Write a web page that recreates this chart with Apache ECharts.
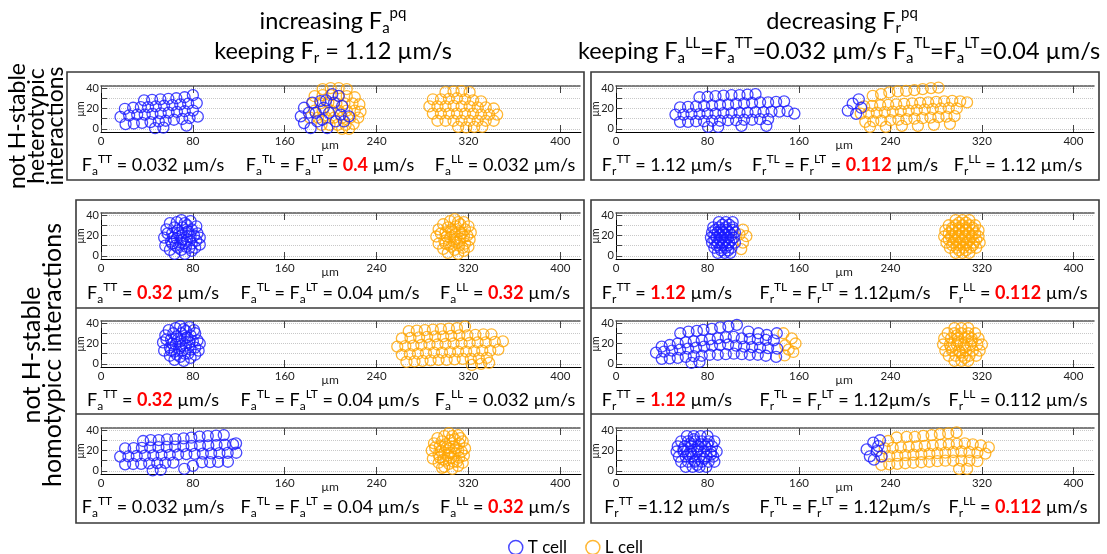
<!DOCTYPE html>
<html><head><meta charset="utf-8">
<script src="https://cdn.jsdelivr.net/npm/echarts@6/dist/echarts.min.js"></script>
<style>html,body{margin:0;padding:0;background:#fff}#c{width:1107px;height:554px}</style>
</head><body><div id="c"></div>
<script>
// ---------- tick values ----------
const xTicks = [0, 80, 160, 240, 320, 400];
const yTicks = [0, 10, 20, 30, 40];
const yLabels = [0, 20, 40];

// ---------- cell positions (µm) ----------
// Panel 1: increasing Fa, heterotypic row
const p1_T = [[37.5,28],[44.5,28.5],[51.7,29],[58.7,29.5],[65.6,30],[72.8,31],[80,33],
 [20.8,19.7],[28,20.7],[34.7,21.3],[41,21.3],[47.7,22],[54.9,22.7],[62.1,23.3],[69,24],[75.9,24.7],[83.4,25.3],
 [17,11.7],[24.5,13.3],[31.5,14],[38.1,14],[44.8,14.7],[52,15.3],[58.9,16],[66.1,16.7],[73,17.3],[80,18],
 [21.4,4.7],[28.6,5.3],[35.8,6],[43.1,6.7],[50.3,7.3],[56.3,8],[63.5,9],[70.8,9.7],[77.1,10.7],[84.3,12],
 [47.1,0.7],[54.3,1.3],[74.5,3.3]];
const p1_Tmix = [[176.8,20.7],[174,12.3],[176.8,5.7],[182.6,0.7],[184,25.7],[187,15.7],[191,27.3],[192.7,9],[194,20.7],
 [197,0.7],[201.4,34],[207,32.3],[203,25.7],[208.7,14],[210,22.3],[211.6,7.3],[204.5,7.3],[198.6,15.7],[188.4,7.3],
 [215.9,12.3],[181,16],[196,28]];
const p1_Lmix = [[193,39],[200,40],[207,40],[214,39],
 [186,32],[193,33],[200,33],[207,32],[214,32],[221,31],
 [184,25],[191,25],[198,26],[205,25],[212,25],[219,25],[225,24],
 [186,18],[193,18],[200,18],[207,18],[214,18],[221,18],[226,17],
 [182,11],[189,11],[196,11],[203,11],[210,11],[217,11],[224,11],
 [192,4],[199,4],[206,4],[213,4],[220,5],[210,0],[216,0]];
const p1_L = [[300,36],[307,36.5],[314,37],[321,36],
 [289,29],[296,29],[303,29.5],[310,30],[317,29],[324,28],[331,27],
 [286,22],[293,22],[300,22],[307,22.5],[314,22],[321,22],[328,21],[335,21],[342,20],
 [289,15],[296,15],[303,15],[310,15],[317,15],[324,15],[331,14],[338,14],[345,14],
 [293,8],[300,8],[307,8],[314,8],[321,8],[328,8],[335,8],[342,8],
 [311,2],[318,1.5],[325,2],[332,2]];

// Panel 2: decreasing Fr, heterotypic row
const p2_T = [[73,31],[80,31.5],[87,32],[94,32.5],[101,33],[108,33],[115,33.5],[122,34],
 [56,21],[63,21.5],[70,22],[77,22.5],[84,23],[91,23.5],[98,24],[105,24.5],[112,25],[119,25.5],[126,26],[133,26],[140,26.5],[147,27],
 [52,14],[59,14],[66,14.5],[73,14.5],[80,15],[87,15],[94,15.5],[101,15.5],[108,16],[115,16],[122,16.5],[129,16.5],[136,17],[143,17],[150,17.5],[156,15],
 [56,7],[63,7],[70,7.5],[77,7.5],[84,8],[91,8],[98,8.5],[105,8.5],[112,9],[119,9],[126,9.5],[133,9.5],
 [80.5,2],[89.3,2],[109.7,3],[131.5,3]];
const p2_Tmix = [[202.7,18],[207,24.7],[212.3,29],[214.4,20.7],[210,14.7]];
const p2_L = [[224.5,32.3],[231.8,34],[239,35.7],[246.4,36.7],[253.7,37.3],[260.9,38],[268.2,39],[275.5,40],[282,40.5],
 [217,22],[224,22.5],[231,23],[238,23.5],[245,24],[252,24.5],[259,25],[266,25.5],[273,26],[280,26.5],[287,27],[294,27.5],[301,27],[307,26],
 [214,15],[221,15.5],[228,16],[235,16.5],[242,17],[249,17.5],[256,18],[263,18.5],[270,19],[277,19.5],[284,20],[291,20.5],[298,20],
 [218,7],[225,7.5],[232,8],[240,8.5],[247,9],[254,9.5],[261,10],[268,10.5],[275,11],[282,11.5],[289,12],[296,12.5],
 [222,2],[236,2],[250,3],[264,3],[278,4],[292,5]];

// Panel 3: Fa row 2 (left)
const p3_T = [[56,10],[55,18],[57,26],[60,32],[62,22],[61,14],[60,6],[64,2],[65,10],[66,17],[67,25],[66,33],[70,35],[71,28],
 [70,20],[69,13],[70,6],[73,2],[74,9],[75,16],[74,23],[75,30],[78,34],[79,26],[78,19],[79,12],[79,5],[82,8],[83,15],[84,22],
 [83,29],[86,18],[86,11],[63,18],[68,22],[72,12],[76,24],[64,28],[73,32],[58,22],[77,8],[81,20],[67,8],[71,16],[62,12]];
const p3_L = [[294,12],[292,19],[294,26],[298,31],[300,23],[299,15],[298,7],[302,3],[303,11],[304,18],[305,26],[304,34],[308,36],
 [309,29],[308,21],[307,14],[308,6],[311,2],[312,10],[313,17],[312,24],[313,31],[316,33],[317,26],[316,19],[317,12],[316,5],
 [320,9],[321,16],[322,23],[320,29],[301,19],[306,23],[310,13],[314,22],[302,28],[311,33],[296,22],[315,8],[319,20],[305,9],
 [309,17],[300,12]];

// Panel 4: Fr row 2 (right)
const p4_T = [[90,33],[96,33],[102,33],[85,28],[90,28],[96,28],[102,28],[84,23],[89,23],[94,23],[99,23],[104,23],
 [83,18],[88,18],[93,18],[98,18],[103,18],[84,13],[89,13],[94,13],[99,13],[104,13],[86,8],[91,8],[96,8],[101,8],
 [89,3],[95,3],[100,3],
 [93,30.5],[99,30.5],[87,25.5],[92,25.5],[97,25.5],[102,25.5],[86,20.5],[91,20.5],[96,20.5],[101,20.5],
 [86,15.5],[91,15.5],[96,15.5],[101,15.5],[88,10.5],[93,10.5],[98,10.5],[92,5.5],[98,5.5]];
const p4_Lmix = [[111,25.7],[114,19.3],[111,13],[109.5,6.7],[108,21]];
const p4_L = [[297,35],[303,35],[309,35],[291,30],[297,30],[303,30],[309,30],[314,30],
 [288,25],[294,25],[300,25],[306,25],[312,25],[317,25],[287,19],[293,19],[299,19],[305,19],[311,19],[317,19],
 [289,13],[295,13],[301,13],[307,13],[313,13],[318,13],[292,8],[298,8],[304,8],[310,8],[315,8],[297,3],[303,3],[309,3],
 [300,32.5],[306,32.5],[294,27.5],[300,27.5],[306,27.5],[312,27.5],[291,22],[297,22],[303,22],[309,22],[314,22],
 [291,16],[297,16],[303,16],[309,16],[315,16],[294,10.5],[300,10.5],[306,10.5],[312,10.5],[300,5.5],[306,5.5]];

// Panel 5: Fa row 3 (left)
const p5_T = [[55,13],[54,21],[56,28],[59,33],[61,24],[60,16],[60,8],[64,4],[64,12],[65,19],[66,27],[65,35],[69,37],[70,30],
 [69,22],[68,15],[69,7],[72,3],[73,10],[74,18],[73,25],[74,32],[77,36],[78,28],[77,21],[78,14],[78,6],[82,9],[82,16],[84,23],
 [82,30],[86,20],[85,13],[62,20],[67,24],[71,13],[75,26],[63,30],[72,34],[57,24],[76,10],[80,22],[66,9],[70,18],[61,13],[81,33]];
const p5_L = [[268,32],[275,32.5],[282,33],[289,33.5],[296,34],[303,34.5],[310,35],[317,36.5],
 [262,25],[269.5,25.5],[277,26],[284,26.5],[291,27],[298,27],[305,27.5],[312,28],[319,28],[326,28.5],[333,29],[340,29],
 [258,17],[265,17.5],[272,18],[279,18.5],[286,19],[293,19],[300,19.5],[307,20],[314,20],[321,20.5],[328,21],[335,21],[343,21.5],[350,22],
 [262,9],[269,9.5],[276,10],[283,10.5],[290,11],[297,11],[304,11.5],[311,12],[318,12],[325,12.5],[332,13],[339,13],[346,14],
 [266,2],[273,2.5],[280,3],[287,3.5],[294,4],[301,4],[308,4.5],[315,5],[322,5],[329,5.5],[336,6],
 [323,-1],[331,0],[338,1]];

// Panel 6: Fr row 3 (right)
const p6_T = [[56.2,30],[63.4,31.7],[70.7,32.3],[76.5,33.3],[83.8,34.3],[91.1,35.7],[98.3,36.7],[105.7,38.3],[115.8,31.7],[124.5,30],[131.9,28.3],[140.6,30],
 [40,17],[47,18.5],[54,20],[61,21],[68,22],[75,23],[82,24],[89,25],[96,26],[103,26.5],[110,25],[117,24.5],[124,24],[131,23.5],[138,23],
 [35,11],[42,12],[49,13],[56,14],[63,15],[70,16],[77,17],[84,18],[91,18.5],[98,19],[105,18],[112,17],[119,16.5],[126,16],[133,15.5],[141,15],
 [40,5],[47,5.5],[54,6],[61,7],[68,7.5],[75,8],[82,9],[89,9],[96,9.5],[103,10],[110,9.5],[117,9],[124,9],[131,8],[140,7],
 [66,1],[73,2]];
const p6_Lmix = [[146.4,30],[153.7,25],[157,20],[148,18.3],[155,11.7],[147.5,8.3],[151,14]];
const p6_L = [[296,35],[302,35],[308,35],[290,30],[296,30],[302,30],[308,30],[314,30],
 [287,25],[293,25],[299,25],[305,25],[311,25],[317,25],[286,19],[292,19],[298,19],[304,19],[310,19],[316,19],[320,19],
 [288,13],[294,13],[300,13],[306,13],[312,13],[318,13],[291,8],[297,8],[303,8],[309,8],[315,8],[296,3],[302,3],[308,3],
 [299,22],[305,16],[301,11],[308,27],[293,16],[311,22],[298,28],[305,6]];

// Panel 7: Fa row 4 (left)
const p7_T = [[36.7,29.3],[43.3,30.2],[50.3,30.2],[57.5,30.9],[64.7,31.2],[71.9,31.9],[78.6,32.5],[85.8,33.5],[93,34.1],[100.2,34.5],[106.9,35.1],[117.6,27],
 [21,22],[28.4,22.3],[35.6,22.6],[42.8,22.9],[50,23.2],[57.2,23.5],[64.5,23.8],[71.7,24.1],[78.9,24.4],[86.2,24.7],[93.4,25],[100.6,25.3],[107.8,25.6],[115,25.9],
 [16.7,14],[23.9,14.3],[31.1,14.6],[38.3,14.9],[45.5,15.2],[52.7,15.5],[59.9,15.8],[67.1,16.1],[74.3,16.4],[81.5,16.7],[88.7,17],[95.9,17.2],[103.1,17.4],[110.3,17.6],[117.8,17.8],
 [21,6.5],[28,6.8],[35,7],[42,7.3],[49,7.6],[56,7.9],[63,8.2],[88,8.5],[95,8.7],[102,8.8],[110.5,9],
 [45,0.5],[52,1],[72.5,2],[80,5]];
const p7_L = [[289,12],[288,20],[290,27],[293,32],[295,24],[294,16],[294,8],[297,3],[298,11],[299,18],[300,26],[299,34],[303,37],
 [304,30],[303,22],[302,15],[303,7],[306,2],[307,9],[308,17],[307,24],[308,31],[311,35],[312,27],[311,20],[312,13],[311,5],
 [315,8],[316,15],[317,22],[315,29],[296,20],[301,23],[305,13],[309,22],[297,29],[306,34],[291,23],[310,9],[314,19],[300,10],
 [304,18],[295,13],[313,32],[299,4]];

// Panel 8: Fr row 4 (right)
const p8_T = [[62,34],[68,34],[74,34],[80,34],[57,29],[63,29],[69,29],[75,29],[81,29],[86,29],
 [54,24],[60,24],[66,24],[72,24],[78,24],[84,24],[53,19],[59,19],[65,19],[71,19],[77,19],[83,19],[88,19],
 [55,14],[61,14],[67,14],[73,14],[79,14],[85,14],[57,9],[63,9],[69,9],[75,9],[81,9],[86,9],[61,4],[67,4],[73,4],[79,4],
 [65,27],[71,21],[77,12],[63,16],[80,26],[69,10],[68,31],[74,26],[59,21],[83,16],[71,6],[66,17]];
const p8_Tmix = [[219.2,21],[225,27.7],[230.8,30],[222,14.3],[228,19.3],[232.3,14.3],[229.3,24.3],[225.6,11]];
const p8_L = [[238,29.3],[245.4,32.7],[254.1,33.3],[261.4,33.3],[268.7,34.3],[276,35],[283.2,36],[290.5,36.7],[297.8,37.7],
 [235,22],[242,22.5],[249,23],[256,23.5],[263,24],[270,24.5],[277,25],[284,25.5],[291,26],[298,26.5],[305,27],[312,26],[319,25],[326,23],
 [232,14],[239,14.5],[246,15],[253,15.5],[260,16],[267,16.5],[274,17],[281,17.5],[288,18],[295,18.5],[302,19],[309,18.5],[316,18],[323,17],
 [232,6],[239,6.5],[246,7],[253,7.5],[260,8],[267,8.5],[274,9],[281,9.5],[288,10],[295,10],[302,10],[309,10],[316,9.5],
 [300,2],[307,2]];

// ---------- texts ----------
const headerLeft = ['{h|increasing F}{hs|a}{hp|pq}', '{h|keeping F}{hs|r}{h| = 1.12 µm/s}'];
const headerRight = ['{h|decreasing F}{hs|r}{hp|pq}',
  '{h|keeping F}{hs|a}{hp|LL}{h|=F}{hs|a}{hp|TT}{h|=0.032 µm/s F}{hs|a}{hp|TL}{h|=F}{hs|a}{hp|LT}{h|=0.04 µm/s}'];
const rowLabel1 = 'not H-stable\nheterotypic\ninteractions';
const rowLabel2 = 'not H-stable\nhomotypicc interactions';
const panelTexts = [
 ['{m|F}{s|a}{p|TT}{m| = 0.032 µm/s}', '{m|F}{s|a}{p|TL}{m| = F}{s|a}{p|LT}{m| = }{r|0.4}{m| µm/s}', '{m|F}{s|a}{p|LL}{m| = 0.032 µm/s}'],
 ['{m|F}{s|r}{p|TT}{m| = 1.12 µm/s}', '{m|F}{s|r}{p|TL}{m| = F}{s|r}{p|LT}{m| = }{r|0.112}{m| µm/s}', '{m|F}{s|r}{p|LL}{m| = 1.12 µm/s}'],
 ['{m|F}{s|a}{p|TT}{m| = }{r|0.32}{m| µm/s}', '{m|F}{s|a}{p|TL}{m| = F}{s|a}{p|LT}{m| = 0.04 µm/s}', '{m|F}{s|a}{p|LL}{m| = }{r|0.32}{m| µm/s}'],
 ['{m|F}{s|r}{p|TT}{m| = }{r|1.12}{m| µm/s}', '{m|F}{s|r}{p|TL}{m| = F}{s|r}{p|LT}{m| = 1.12µm/s}', '{m|F}{s|r}{p|LL}{m| = }{r|0.112}{m| µm/s}'],
 ['{m|F}{s|a}{p|TT}{m| = }{r|0.32}{m| µm/s}', '{m|F}{s|a}{p|TL}{m| = F}{s|a}{p|LT}{m| = 0.04 µm/s}', '{m|F}{s|a}{p|LL}{m| = 0.032 µm/s}'],
 ['{m|F}{s|r}{p|TT}{m| = }{r|1.12}{m| µm/s}', '{m|F}{s|r}{p|TL}{m| = F}{s|r}{p|LT}{m| = 1.12µm/s}', '{m|F}{s|r}{p|LL}{m| = 0.112 µm/s}'],
 ['{m|F}{s|a}{p|TT}{m| = 0.032 µm/s}', '{m|F}{s|a}{p|TL}{m| = F}{s|a}{p|LT}{m| = 0.04 µm/s}', '{m|F}{s|a}{p|LL}{m| = }{r|0.32}{m| µm/s}'],
 ['{m|F}{s|r}{p|TT}{m| =1.12 µm/s}', '{m|F}{s|r}{p|TL}{m| = F}{s|r}{p|LT}{m| = 1.12µm/s}', '{m|F}{s|r}{p|LL}{m| = }{r|0.112}{m| µm/s}']
];

// ---------- layout ----------
const FONT = 'Lato, "Open Sans", sans-serif';
const BLUE = '#1a1aff', ORANGE = '#ffa500';
const colLeft = [101, 616], colWidth = [480, 478];
const rowTop = [86, 213, 321, 428], plotH = 46;
const textY = [165, 293, 400, 507];
const textX = [[153, 330, 505], [667, 845, 1018]];
const panels = [
 {T: p1_T.concat(p1_Tmix), L: p1_Lmix.concat(p1_L)},
 {T: p2_T.concat(p2_Tmix), L: p2_L},
 {T: p3_T, L: p3_L},
 {T: p4_T, L: p4_Lmix.concat(p4_L)},
 {T: p5_T, L: p5_L},
 {T: p6_T, L: p6_Lmix.concat(p6_L)},
 {T: p7_T, L: p7_L},
 {T: p8_T.concat(p8_Tmix), L: p8_L}
];

const rich = {
 m: {fontSize: 18, lineHeight: 24, fontFamily: FONT, fill: '#000'},
 s: {fontSize: 12, lineHeight: 12, verticalAlign: 'bottom', fontFamily: FONT, fill: '#000'},
 p: {fontSize: 12, lineHeight: 16, verticalAlign: 'top', fontFamily: FONT, fill: '#000'},
 r: {fontSize: 18, lineHeight: 24, fontFamily: FONT, fill: '#ff0000', fontWeight: 'bold'}
};
const hrich = {
 h: {fontSize: 23.5, lineHeight: 30, fontFamily: FONT, fill: '#000'},
 hs: {fontSize: 15, lineHeight: 15, verticalAlign: 'bottom', fontFamily: FONT, fill: '#000'},
 hp: {fontSize: 15, lineHeight: 20, verticalAlign: 'top', fontFamily: FONT, fill: '#000'}
};

const grid = [], xAxis = [], yAxis = [], series = [], graphic = [];
panels.forEach((p, i) => {
  const col = i % 2, row = Math.floor(i / 2);
  grid.push({left: colLeft[col], top: rowTop[row], width: colWidth[col], height: plotH});
  xAxis.push({
    gridIndex: i, type: 'value', min: 0, max: 418, position: 'bottom',
    axisLine: {show: true, onZero: false, lineStyle: {color: '#000', width: 1}},
    axisTick: {show: true, inside: true, length: 7, customValues: xTicks, lineStyle: {color: '#444'}},
    axisLabel: {customValues: xTicks, margin: 3, fontSize: 11.5, color: '#222', fontFamily: FONT},
    splitLine: {show: false},
    name: 'µm', nameLocation: 'middle', nameGap: 7, nameMoveOverlap: false,
    nameTextStyle: {fontSize: 12, color: '#222', fontFamily: FONT, padding: [0, 22, 0, 0]}
  });
  xAxis.push({
    gridIndex: i, type: 'value', min: 0, max: 418, position: 'top',
    axisLine: {show: true, onZero: false, lineStyle: {color: '#555', width: 1.5, type: [3, 1]}},
    axisTick: {show: true, inside: true, length: 7, customValues: xTicks, lineStyle: {color: '#444'}},
    axisLabel: {show: false}, splitLine: {show: false}
  });
  yAxis.push({
    gridIndex: i, type: 'value', min: -3, max: 42,
    axisLine: {show: true, onZero: false, lineStyle: {color: '#000', width: 1}},
    axisTick: {show: true, inside: true, length: 6, customValues: yTicks, lineStyle: {color: '#444'}},
    axisLabel: {customValues: yLabels, margin: 2, fontSize: 11, color: '#222', fontFamily: FONT},
    splitLine: {show: true, lineStyle: {color: '#c8c8c8', type: 'dotted', width: 1}},
    name: 'µm', nameLocation: 'middle', nameGap: 15, nameMoveOverlap: false,
    nameTextStyle: {fontSize: 10.5, color: '#222', fontFamily: FONT}
  });
  series.push({type: 'scatter', name: 'L cell', xAxisIndex: 2 * i, yAxisIndex: i, data: p.L,
    symbol: 'circle', symbolSize: 11, clip: false, silent: true,
    itemStyle: {color: 'rgba(255,255,255,0)', borderColor: ORANGE, borderWidth: 1.3}});
  series.push({type: 'scatter', name: 'T cell', xAxisIndex: 2 * i, yAxisIndex: i, data: p.T,
    symbol: 'circle', symbolSize: 11, clip: false, silent: true,
    itemStyle: {color: 'rgba(255,255,255,0)', borderColor: BLUE, borderWidth: 1.3}});
  panelTexts[i].forEach((t, k) => {
    graphic.push({type: 'text', x: textX[col][k], y: textY[row],
      style: {text: t, rich: rich, align: 'center', verticalAlign: 'middle'}});
  });
});

// boxes
const boxStyle = {fill: 'none', stroke: '#3a3a3a', lineWidth: 1.6};
graphic.push({type: 'rect', shape: {x: 67, y: 72, width: 517, height: 108}, style: boxStyle});
graphic.push({type: 'rect', shape: {x: 591, y: 72, width: 508, height: 108}, style: boxStyle});
graphic.push({type: 'rect', shape: {x: 76, y: 200, width: 508, height: 323}, style: boxStyle});
graphic.push({type: 'rect', shape: {x: 591, y: 200, width: 508, height: 323}, style: boxStyle});
[308, 414].forEach(yy => {
  graphic.push({type: 'line', shape: {x1: 76, y1: yy, x2: 584, y2: yy}, style: {stroke: '#3a3a3a', lineWidth: 1.6}});
  graphic.push({type: 'line', shape: {x1: 591, y1: yy, x2: 1099, y2: yy}, style: {stroke: '#3a3a3a', lineWidth: 1.6}});
});
// headers
graphic.push({type: 'text', x: 333, y: 21, style: {text: headerLeft[0], rich: hrich, align: 'center', verticalAlign: 'middle'}});
graphic.push({type: 'text', x: 333, y: 51, style: {text: headerLeft[1], rich: hrich, align: 'center', verticalAlign: 'middle'}});
graphic.push({type: 'text', x: 842, y: 21, style: {text: headerRight[0], rich: hrich, align: 'center', verticalAlign: 'middle'}});
graphic.push({type: 'text', x: 839, y: 51, style: {text: headerRight[1], rich: hrich, align: 'center', verticalAlign: 'middle'}});
// row labels
graphic.push({type: 'text', x: 37, y: 126, rotation: Math.PI / 2,
  style: {text: rowLabel1, fontSize: 23, fontFamily: FONT, lineHeight: 19, align: 'center', verticalAlign: 'middle', fill: '#000'}});
graphic.push({type: 'text', x: 42, y: 355, rotation: Math.PI / 2,
  style: {text: rowLabel2, fontSize: 25, fontFamily: FONT, lineHeight: 21, align: 'center', verticalAlign: 'middle', fill: '#000'}});

const chart = echarts.init(document.getElementById('c'), null, {renderer: 'canvas'});
chart.setOption({
  animation: false,
  backgroundColor: '#fff',
  grid: grid, xAxis: xAxis, yAxis: yAxis, series: series,
  legend: {
    left: 503, top: 534, itemWidth: 14, itemHeight: 14, itemGap: 18, selectedMode: false,
    icon: 'circle',
    data: [
      {name: 'T cell', itemStyle: {color: 'rgba(255,255,255,0)', borderColor: BLUE, borderWidth: 1.5}},
      {name: 'L cell', itemStyle: {color: 'rgba(255,255,255,0)', borderColor: ORANGE, borderWidth: 1.5}}
    ],
    textStyle: {fontSize: 17, fontFamily: FONT, color: '#000'}
  },
  graphic: graphic
});
</script></body></html>
